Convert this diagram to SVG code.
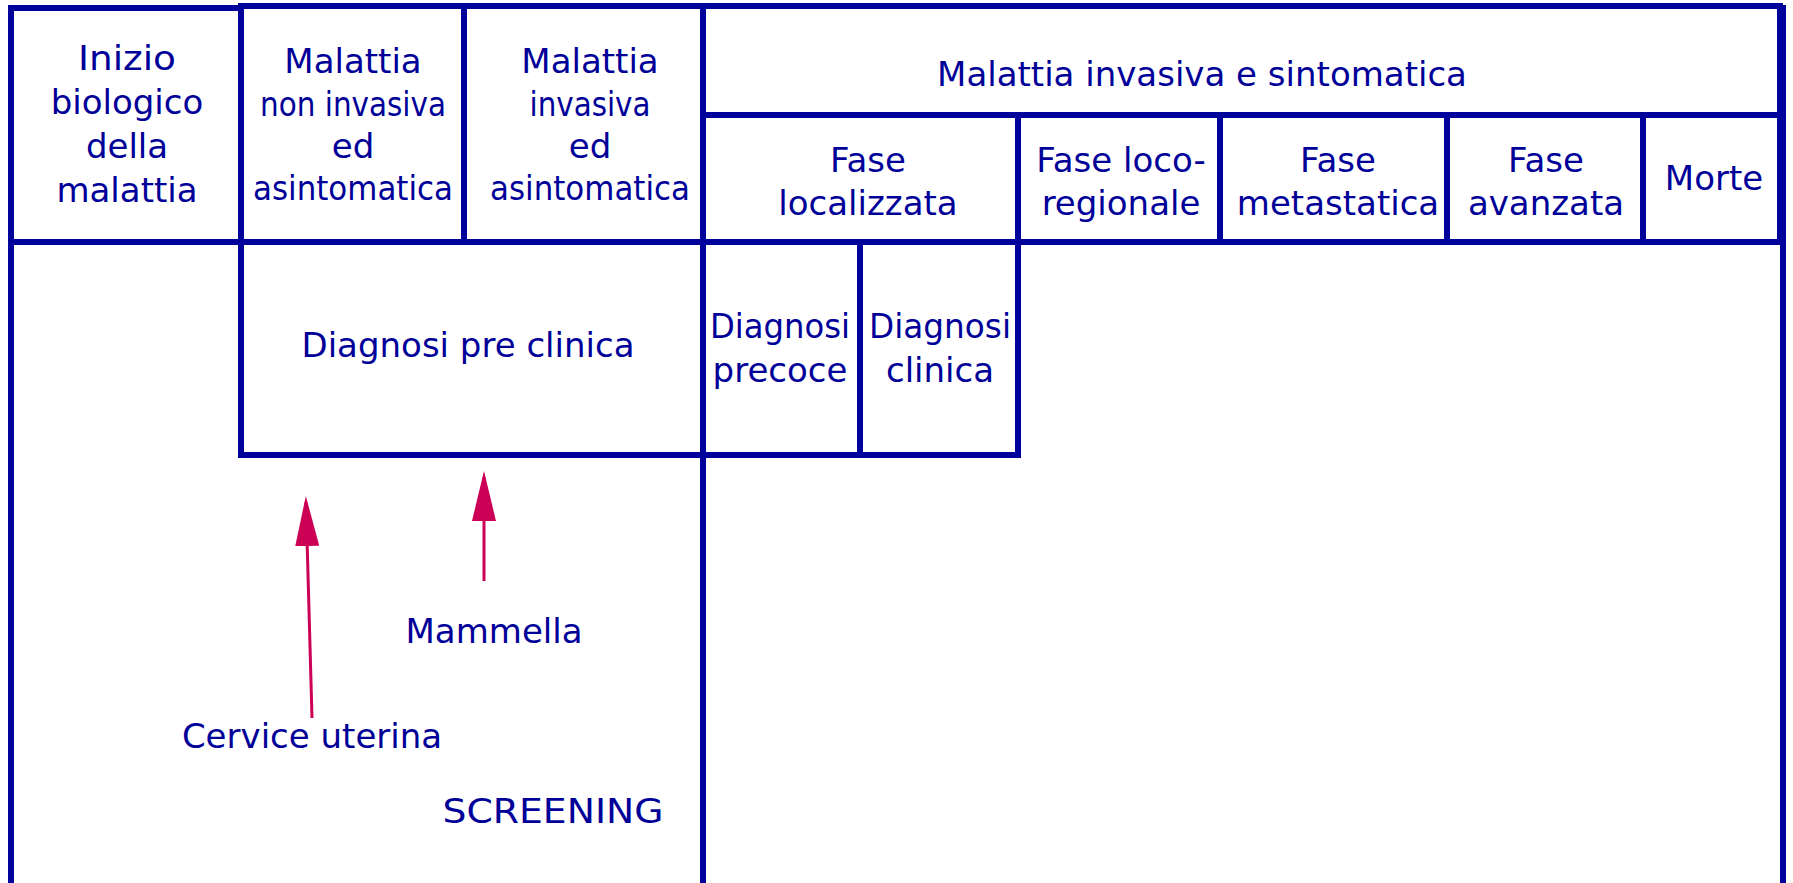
<svg xmlns="http://www.w3.org/2000/svg" width="1793" height="883" viewBox="0 0 1793 883">
<style>
.cell{fill:none;stroke:#00009A;stroke-width:6}
.ln{stroke:#00009A;stroke-width:6;fill:none}
text{font-family:"DejaVu Sans","Liberation Sans",sans-serif;font-size:34px;fill:#000099;text-anchor:middle}
.arr{stroke:#CC0055;stroke-width:3;fill:none;marker-end:url(#head)}
</style>
<defs>
<marker id="head" viewBox="0 0 50 24" refX="44" refY="12" markerWidth="50" markerHeight="24" markerUnits="userSpaceOnUse" orient="auto">
<path d="M0,0 L50,12 L0,24 z" fill="#CC0055"/>
</marker>
</defs>
<rect width="1793" height="883" fill="#fff"/>
<g id="frame">
<line class="ln" x1="11" y1="240" x2="11" y2="883"/>
<line class="ln" x1="703" y1="453" x2="703" y2="883"/>
<line class="ln" x1="1783" y1="5" x2="1783" y2="883"/>
</g>
<g id="inizio">
<rect class="cell" x="11" y="8" width="230" height="234"/>
<text x="127" y="70" textLength="98" lengthAdjust="spacingAndGlyphs">Inizio</text>
<text x="127" y="114">biologico</text>
<text x="127" y="158">della</text>
<text x="127" y="202">malattia</text>
</g>
<g id="non-invasiva">
<rect class="cell" x="241" y="6" width="223" height="236"/>
<text x="353" y="73">Malattia</text>
<text x="353" y="116" textLength="186" lengthAdjust="spacingAndGlyphs">non invasiva</text>
<text x="353" y="158">ed</text>
<text x="353" y="200" textLength="200" lengthAdjust="spacingAndGlyphs">asintomatica</text>
</g>
<g id="invasiva-asintomatica">
<rect class="cell" x="464" y="6" width="239" height="236"/>
<text x="590" y="73">Malattia</text>
<text x="590" y="116" textLength="121" lengthAdjust="spacingAndGlyphs">invasiva</text>
<text x="590" y="158">ed</text>
<text x="590" y="200" textLength="200" lengthAdjust="spacingAndGlyphs">asintomatica</text>
</g>
<g id="invasiva-sintomatica">
<rect class="cell" x="703" y="6" width="1077" height="109"/>
<text x="1202" y="86">Malattia invasiva e sintomatica</text>
</g>
<g id="fase-localizzata">
<rect class="cell" x="703" y="115" width="315" height="127"/>
<text x="868" y="172">Fase</text>
<text x="868" y="215">localizzata</text>
</g>
<g id="fase-locoregionale">
<rect class="cell" x="1018" y="115" width="202" height="127"/>
<text x="1121" y="172">Fase loco-</text>
<text x="1121" y="215">regionale</text>
</g>
<g id="fase-metastatica">
<rect class="cell" x="1220" y="115" width="227" height="127"/>
<text x="1338" y="172">Fase</text>
<text x="1338" y="215">metastatica</text>
</g>
<g id="fase-avanzata">
<rect class="cell" x="1447" y="115" width="196" height="127"/>
<text x="1546" y="172">Fase</text>
<text x="1546" y="215">avanzata</text>
</g>
<g id="morte">
<rect class="cell" x="1643" y="115" width="137" height="127"/>
<text x="1714" y="190">Morte</text>
</g>
<g id="diagnosi-preclinica">
<rect class="cell" x="241" y="242" width="462" height="213"/>
<text x="468" y="357">Diagnosi pre clinica</text>
</g>
<g id="diagnosi-precoce">
<rect class="cell" x="703" y="242" width="157" height="213"/>
<text x="780" y="338" textLength="140" lengthAdjust="spacingAndGlyphs">Diagnosi</text>
<text x="780" y="382">precoce</text>
</g>
<g id="diagnosi-clinica">
<rect class="cell" x="860" y="242" width="158" height="213"/>
<text x="940" y="338" textLength="142" lengthAdjust="spacingAndGlyphs">Diagnosi</text>
<text x="940" y="382">clinica</text>
</g>
<g id="connectors">
<line class="arr" x1="312" y1="718" x2="306" y2="502"/>
<line class="arr" x1="484" y1="581" x2="484" y2="477"/>
</g>
<g id="labels">
<text x="494" y="643">Mammella</text>
<text x="312" y="748">Cervice uterina</text>
<text x="553" y="823" textLength="221" lengthAdjust="spacingAndGlyphs">SCREENING</text>
</g>
</svg>
